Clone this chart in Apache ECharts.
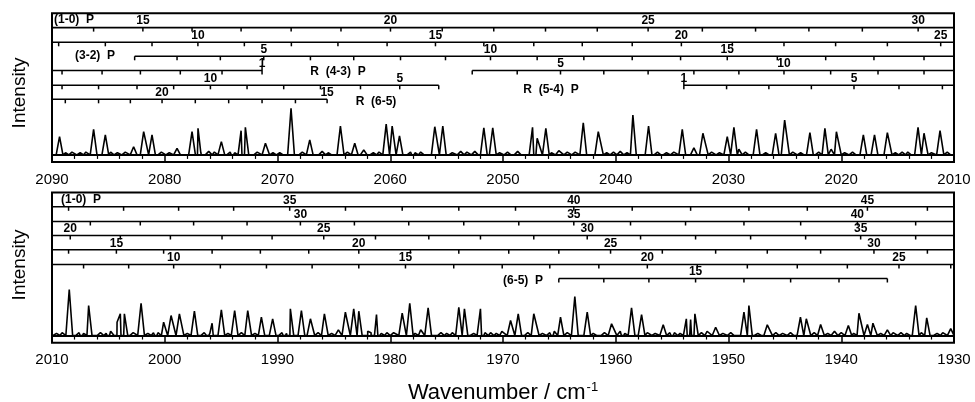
<!DOCTYPE html>
<html>
<head>
<meta charset="utf-8">
<script src="https://cdn.jsdelivr.net/npm/echarts@6.0.0/dist/echarts.min.js"></script>
<style>
  html, body { margin: 0; padding: 0; background: #fff; }
  #main { width: 975px; height: 402px; }
</style>
</head>
<body>
<div id="main"></div>
<script>
// line positions (cm-1) of every branch, from its first J upwards
var p10J0 = 14;
var p10 = [2086.31, 2081.94, 2077.58, 2073.23, 2068.79, 2064.37, 2059.98, 2055.39, 2050.82, 2046.23, 2041.64,
  2037.13, 2032.32, 2027.60, 2022.87, 2018.13, 2013.18, 2008.53, 2003.65, 1998.77, 1993.89, 1988.92, 1983.97,
  1978.94, 1973.92, 1968.89, 1963.72, 1958.54, 1953.36, 1948.19, 1943.01, 1937.68, 1932.36];
var p10Marks = [15, 20, 25, 30, 35, 40, 45];

var p21J0 = 7;
var p21 = [2089.41, 2085.27, 2081.13, 2077.06, 2072.94, 2068.77, 2064.64, 2060.28, 2055.99, 2051.70, 2047.27,
  2042.97, 2038.54, 2034.18, 2029.66, 2025.08, 2020.50, 2015.91, 2011.18, 2006.60, 2002.17, 1997.44, 1992.70,
  1987.97, 1983.18, 1978.36, 1973.48, 1968.60, 1963.72, 1958.69, 1953.81, 1948.63, 1943.60, 1938.57, 1933.40];
var p21Marks = [10, 15, 20, 25, 30, 35, 40];

var p32J0 = 2;
var p32 = [2082.67, 2078.91, 2075.07, 2071.22, 2067.08, 2063.24, 2059.09, 2055.10, 2051.11, 2046.97, 2042.83,
  2038.54, 2034.25, 2030.11, 2025.67, 2021.38, 2017.10, 2012.66, 2008.38, 2003.94, 1999.50, 1994.92, 1990.48,
  1985.90, 1981.31, 1976.58, 1972.00, 1967.27, 1962.53, 1957.80, 1952.92, 1948.04, 1943.16, 1938.28, 1933.40];
var p32Marks = [5, 10, 15, 20, 25, 30, 35];

var r43J0 = 1;
var r43 = [2071.37, 2074.92, 2078.62, 2082.16, 2085.56, 2089.11];
var r43Marks = [1];

var p43J0 = 3;
var p43 = [2052.73, 2048.74, 2044.90, 2041.06, 2037.13, 2033.07, 2029.08, 2025.08, 2020.94, 2016.74, 2012.66,
  2008.53, 2004.29, 2000.10, 1995.80, 1991.52, 1987.23, 1982.79, 1978.21, 1973.92, 1969.49, 1965.05, 1960.46,
  1955.87, 1951.14, 1946.56, 1941.83, 1937.10, 1932.36];
var p43Marks = [5, 10, 15, 20, 25, 30];

var r54J0 = 4;
var r54 = [2055.70, 2059.16, 2062.64, 2066.19, 2069.45, 2072.70, 2075.95, 2079.21, 2082.46, 2085.87, 2089.11];
var r54Marks = [5, 10];

var p54J0 = 1;
var p54 = [2033.96, 2030.17, 2026.42, 2022.65, 2018.87, 2014.88, 2011.03, 2007.20, 2003.20, 1999.21, 1995.07,
  1990.98, 1986.93, 1982.79, 1978.65, 1974.37, 1970.07, 1965.85, 1961.50, 1957.20, 1952.77, 1948.33, 1943.90,
  1939.46, 1934.88, 1930.29];
var p54Marks = [1, 5, 10, 15, 20, 25];

var r65J0 = 15;
var r65 = [2065.60, 2068.41, 2071.37, 2074.33, 2077.29, 2080.24, 2083.05, 2085.87, 2088.82];
var r65Marks = [15, 20];

var p65J0 = 12;
var p65 = [1965.05, 1961.06, 1957.06, 1952.92, 1948.63, 1944.49, 1940.20, 1935.91];
var p65Marks = [15];

// observed lines: [wavenumber, intensity above baseline]
var peaksTop = [
  [2089.33, 12.9], [2088.8, 1.5], [2088.23, 2], [2087.5, 1.5], [2087.0, 2], [2086.31, 18.1], [2085.27, 14.1],
  [2084.8, 2], [2084.2, 1.5], [2083.5, 2], [2082.76, 5.8], [2081.87, 16.4], [2081.13, 14.1], [2080.3, 2],
  [2079.6, 1.5], [2078.91, 4.7], [2077.58, 16.4], [2077.05, 18.8], [2076.8, 1.5], [2076.1, 2.5], [2075.6, 2],
  [2074.98, 9.4], [2074.2, 2], [2073.8, 1.5], [2073.23, 17.1], [2072.85, 19.5], [2071.8, 2], [2071.07, 8.2],
  [2070.4, 1.5], [2069.8, 1.5], [2068.8, 32.9], [2067.8, 2], [2067.14, 10.6], [2066.04, 2.5],
  [2065.5, 1.5], [2064.42, 20.4], [2063.8, 2], [2063.15, 8.2], [2062.35, 3.5], [2061.5, 1.5], [2061.0, 2],
  [2060.36, 21.8], [2059.83, 20.4], [2059.18, 13.4], [2058.2, 2], [2057.8, 1.5], [2057.3, 2], [2056.05, 19.9],
  [2055.34, 20.4], [2054.5, 1.5], [2053.75, 2.5], [2053.2, 2], [2052.5, 2.5], [2051.70, 19.2], [2050.91, 19.2],
  [2050.3, 1.5], [2049.6, 2], [2048.7, 2.5], [2047.38, 19.5], [2046.97, 11.8], [2046.20, 18.8], [2045.7, 1.5],
  [2045.05, 3], [2044.3, 2], [2043.6, 2], [2042.88, 22.7], [2041.55, 16.4], [2040.8, 1.5], [2040.2, 2],
  [2039.6, 2.5], [2039.0, 1.5], [2038.48, 28.2], [2037.09, 20.4], [2036.3, 2], [2035.5, 1.5], [2034.85, 2],
  [2034.1, 18.1], [2033.07, 5], [2032.27, 15.3], [2031.5, 2], [2030.8, 1.5], [2030.11, 12.9],
  [2029.52, 19.5], [2029.08, 4], [2028.5, 2], [2027.51, 18.1], [2026.7, 1.5], [2025.82, 15.3], [2025.02, 24.6],
  [2024.3, 2], [2023.6, 1.5], [2022.78, 15.7], [2022.0, 2], [2021.45, 18.8], [2020.9, 4], [2020.43, 16.4],
  [2019.7, 1.5], [2019.0, 2], [2018.04, 14.1], [2017.05, 14.1], [2015.91, 15.7], [2015.2, 1.5],
  [2014.6, 2], [2014.1, 2], [2013.19, 19.5], [2012.66, 15.3], [2012.0, 1.5], [2011.24, 17.1], [2010.6, 2]
];
var peaksBottom = [
  [2009.6, 1.5], [2009.1, 2], [2008.47, 32.2], [2007.6, 2], [2007.2, 1.5], [2006.75, 21], [2005.7, 2],
  [2005.2, 1.5], [2004.8, 3], [2004.23, 9.3], [2003.94, 15.2], [2003.58, 15.2], [2002.8, 2], [2002.10, 22.6],
  [2001.5, 1.5], [2001.0, 2], [2000.6, 2], [2000.10, 9.3], [1999.44, 14], [1998.70, 15.2], [1998.0, 1.5],
  [1997.37, 17], [1996.5, 2], [1996.0, 1.5], [1995.80, 8.6], [1994.98, 18], [1994.4, 1.5], [1993.80, 17.5],
  [1993.2, 2], [1992.64, 17.5], [1992.0, 1.5], [1991.43, 12.8], [1990.43, 11.7], [1989.6, 2], [1989.2, 1.5],
  [1988.86, 18.7], [1987.88, 17.5], [1987.08, 11.7], [1986.4, 2], [1985.84, 15.2], [1985.2, 1.5], [1984.6, 4],
  [1983.98, 16.3], [1983.24, 18.7], [1982.79, 17], [1982.0, 3], [1981.7, 2], [1981.22, 14.7], [1980.8, 1.5],
  [1980.3, 2], [1979.7, 2], [1978.94, 15.6], [1978.27, 22.6], [1977.8, 1.5], [1977.3, 4], [1976.64, 19.4],
  [1975.5, 2], [1975.0, 1.5], [1974.5, 2], [1973.92, 19.8], [1973.42, 18.7], [1972.6, 1.5], [1972.00, 18.7],
  [1971.6, 2], [1971.1, 2], [1970.6, 1.5], [1970.1, 3], [1969.33, 10.5], [1968.65, 15.2],
  [1967.8, 2], [1967.27, 15.2], [1966.5, 1.5], [1965.85, 2], [1965.45, 3], [1964.90, 12.8], [1964.3, 2],
  [1963.63, 27.3], [1962.53, 16.3], [1962.0, 1.5], [1961.0, 2], [1960.37, 8.2], [1959.6, 3], [1959.2, 1.5],
  [1958.60, 19.4], [1957.71, 14.7], [1957.2, 2], [1956.5, 1.5], [1955.79, 7.5], [1955.2, 2], [1954.8, 2],
  [1954.3, 1.5], [1953.74, 11.7], [1953.36, 11.2], [1952.98, 15.2], [1952.4, 2], [1951.9, 3],
  [1951.14, 5.8], [1950.5, 1.5], [1949.8, 2], [1948.63, 16.3], [1948.19, 21], [1947.4, 1.5], [1946.56, 7.5],
  [1945.8, 2], [1945.2, 1.5], [1944.5, 2], [1943.62, 12.8], [1943.1, 11.7], [1942.4, 2],
  [1941.83, 7.7], [1941.2, 1.5], [1940.6, 3], [1940.0, 2], [1939.37, 7], [1938.9, 1.5], [1938.43, 15.6],
  [1937.68, 7.7], [1937.19, 8.6], [1936.5, 1.5], [1935.91, 4], [1935.4, 2], [1934.7, 2], [1934.2, 1.5],
  [1933.40, 21], [1932.9, 2], [1932.42, 12.4], [1931.5, 1.5], [1931.0, 2], [1930.29, 4.9]
];

var topRange = [2010, 2090];
var bottomRange = [1930, 2010];

// branch rows; span = wavenumber extent of the drawn bar
var branches = [
  { pos: p10, j0: p10J0, marks: p10Marks, span: [1930, 2090], row: 0 },
  { pos: p21, j0: p21J0, marks: p21Marks, span: [1930, 2090], row: 1 },
  { pos: p32, j0: p32J0, marks: p32Marks, span: [1930, 2082.67], row: 2 },
  { pos: r43, j0: r43J0, marks: r43Marks, span: [2071.37, 2090], row: 3 },
  { pos: p43, j0: p43J0, marks: p43Marks, span: [1930, 2052.73], row: 3 },
  { pos: r54, j0: r54J0, marks: r54Marks, span: [2055.70, 2090], row: 4 },
  { pos: p54, j0: p54J0, marks: p54Marks, span: [1930, 2033.96], row: 4 },
  { pos: r65, j0: r65J0, marks: r65Marks, span: [2065.60, 2090], row: 5 },
  { pos: p65, j0: p65J0, marks: p65Marks, span: [1935.91, 1965.05], row: 5 }
];
var rowOffset = [14.3, 29, 43, 57.2, 72, 86];

var FONT = '"Liberation Sans", Arial, Helvetica, sans-serif';
var BOLD = 'bold 12px ' + FONT;

function trace(peaks, range) {
  var pts = [[range[0], 0], [range[1], 0]];
  peaks.forEach(function (p) {
    pts.push([p[0] - 0.3, 0], [p[0], p[1]], [p[0] + 0.3, 0]);
  });
  pts.sort(function (a, b) { return a[0] - b[0]; });
  return pts;
}

function combSeries(gi, range) {
  return {
    type: 'custom',
    xAxisIndex: gi,
    yAxisIndex: gi,
    silent: true,
    clip: false,
    animation: false,
    data: branches.map(function (b, i) { return [b.pos[0], i]; }),
    renderItem: function (params, api) {
      var b = branches[params.dataIndex];
      var cs = params.coordSys;
      var y = cs.y + rowOffset[b.row];
      var from = Math.max(b.span[0], range[0]);
      var to = Math.min(b.span[1], range[1]);
      if (from >= to) return null;
      var xa = api.coord([to, 0])[0];
      var xb = api.coord([from, 0])[0];
      var kids = [{
        type: 'line',
        shape: { x1: xa, y1: y, x2: xb, y2: y },
        style: { stroke: '#000', lineWidth: 1.6 }
      }];
      b.pos.forEach(function (wn, k) {
        if (wn < range[0] || wn > range[1]) return;
        var x = api.coord([wn, 0])[0];
        var J = b.j0 + k;
        kids.push({
          type: 'line',
          shape: { x1: x, y1: (J === 1 ? y - 5 : y), x2: x, y2: y + 4 },
          style: { stroke: '#000', lineWidth: 1.5 }
        });
        if (b.marks.indexOf(J) >= 0) {
          kids.push({
            type: 'text',
            style: {
              text: String(J), x: x, y: y - 0.5,
              textAlign: 'center', align: 'center',
              textVerticalAlign: 'bottom', verticalAlign: 'bottom',
              font: BOLD, fill: '#000'
            }
          });
        }
      });
      return { type: 'group', children: kids };
    }
  };
}

function xAxisFor(gi, range, withName) {
  var ax = {
    gridIndex: gi,
    type: 'value',
    min: range[0],
    max: range[1],
    interval: 10,
    inverse: true,
    axisLine: { show: true, lineStyle: { color: '#000', width: 2 } },
    axisTick: { show: true, length: 7, lineStyle: { color: '#000', width: 1.5 } },
    minorTick: { show: true, splitNumber: 5, length: 4, lineStyle: { color: '#000', width: 1.2 } },
    splitLine: { show: false },
    axisLabel: {
      color: '#000', fontSize: 15, fontFamily: FONT, margin: 10,
      showMinLabel: true, showMaxLabel: true,
      formatter: function (v) { return String(v); }
    }
  };
  if (withName) {
    ax.name = '{a|Wavenumber / cm}{s|-1}';
    ax.nameLocation = 'middle';
    ax.nameGap = 38;
    ax.nameTextStyle = {
      rich: {
        a: { fontSize: 22, fontFamily: FONT, color: '#000' },
        s: { fontSize: 13, fontFamily: FONT, color: '#000', padding: [0, 0, 12, 1] }
      }
    };
  }
  return ax;
}

function yAxisFor(gi) {
  return {
    gridIndex: gi,
    type: 'value',
    min: -5,
    max: 100,
    axisLine: { show: false },
    axisTick: { show: false },
    axisLabel: { show: false },
    splitLine: { show: false }
  };
}

function gridAt(top, height) {
  return {
    left: 52, right: 21, top: top, height: height,
    show: true, borderColor: '#000', borderWidth: 2, backgroundColor: 'transparent',
    containLabel: false, outerBoundsMode: 'none'
  };
}

function nameText(x, y, t) {
  return {
    type: 'text', x: x, y: y, silent: true,
    style: {
      text: t, font: BOLD, fill: '#000',
      textAlign: 'center', align: 'center', textVerticalAlign: 'middle', verticalAlign: 'middle'
    }
  };
}

function sideTitle(y) {
  return {
    type: 'text', x: 20, y: y, rotation: Math.PI / 2, silent: true,
    style: {
      text: 'Intensity', font: '19px ' + FONT, fill: '#000',
      textAlign: 'center', align: 'center', textVerticalAlign: 'middle', verticalAlign: 'middle'
    }
  };
}

var myChart = echarts.init(document.getElementById('main'), null, { renderer: 'canvas' });
var option = {
  animation: false,
  backgroundColor: '#fff',
  grid: [gridAt(13.3, 148.7), gridAt(192.5, 150.2)],
  xAxis: [xAxisFor(0, topRange, false), xAxisFor(1, bottomRange, true)],
  yAxis: [yAxisFor(0), yAxisFor(1)],
  graphic: [
    sideTitle(93),
    sideTitle(265),
    nameText(74, 20, '(1-0)  P'),
    nameText(95, 55.5, '(3-2)  P'),
    nameText(338, 71.5, 'R  (4-3)  P'),
    nameText(551, 90, 'R  (5-4)  P'),
    nameText(376, 101.5, 'R  (6-5)'),
    nameText(81, 200, '(1-0)  P'),
    nameText(523, 280.5, '(6-5)  P')
  ],
  series: [
    {
      type: 'line', xAxisIndex: 0, yAxisIndex: 0,
      data: trace(peaksTop, topRange),
      symbol: 'none', lineStyle: { color: '#000', width: 1.6 }, silent: true
    },
    {
      type: 'line', xAxisIndex: 1, yAxisIndex: 1,
      data: trace(peaksBottom, bottomRange),
      symbol: 'none', lineStyle: { color: '#000', width: 1.6 }, silent: true
    },
    combSeries(0, topRange),
    combSeries(1, bottomRange)
  ]
};
myChart.setOption(option);
</script>
</body>
</html>
